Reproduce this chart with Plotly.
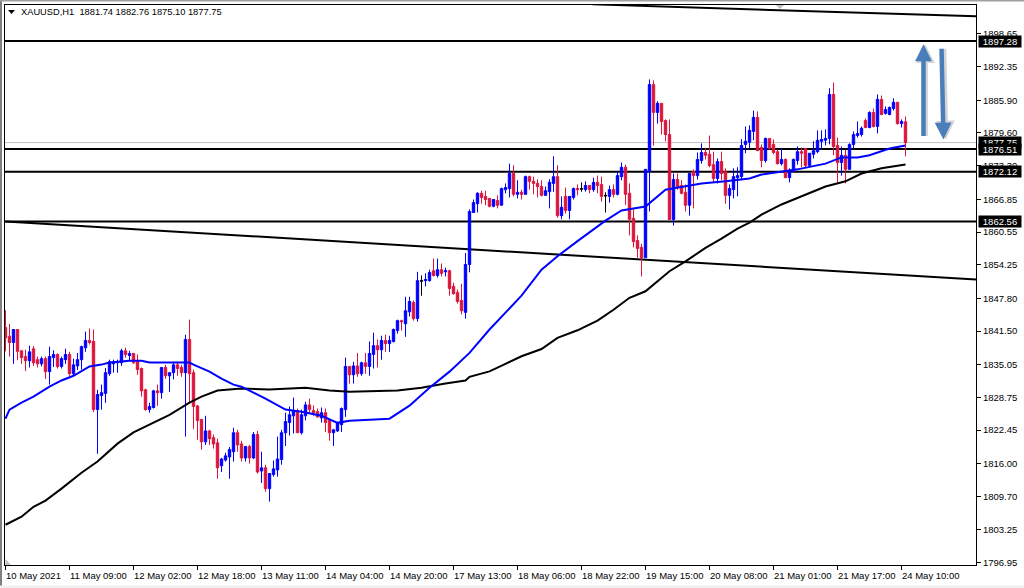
import plotly.graph_objects as go

direction = ("RRBRRRBRRB" "RBBRBBRBBB" "BRRBBBBBBB" "RBRRRRBBRB" "RBBRRBRRRR"
             "BRRRBBBBRR" "BRBRBRBBBB" "BBBRBBRRRB" "RRBBBBRBRB" "RBBRBRBBBR"
             "BBRBDBBRBR" "BRRRRBBBBR" "RRBRBBBRBR" "BRRRRBBBRB" "RBBRDBRBRR"
             "DBRBBRRRRR" "BBRBRRRBRR" "RBRBBRRRBR" "RBBBBBBBRR" "BRRRBRBBBR"
             "RBBBBBBRRB" "RBBBBRBRBR" "BBBRBR")

highs = [1845.5,1842.9,1841.8,1841.9,1837.8,1837.9,1838.7,1838.6,1836.6,1836.6,
         1836.6,1838.5,1837.8,1837.2,1836.6,1838.1,1837.5,1836.2,1837.3,1838.7,
         1841.4,1842.0,1841.8,1830.2,1831.2,1834.4,1836.0,1836.0,1836.0,1838.1,
         1838.3,1837.7,1837.2,1837.0,1834.5,1830.4,1827.7,1830.2,1831.2,1834.5,
         1835.0,1833.5,1835.6,1835.6,1835.0,1840.8,1843.7,1834.1,1827.3,1824.5,
         1825.2,1822.5,1821.6,1820.8,1817.1,1818.1,1819.2,1822.9,1822.5,1820.4,
         1819.4,1819.6,1822.1,1822.3,1818.3,1815.8,1814.1,1816.6,1821.2,1822.5,
         1825.8,1827.0,1828.7,1826.6,1826.4,1827.9,1828.5,1827.2,1826.6,1826.8,
         1826.6,1824.6,1822.7,1824.1,1826.8,1836.4,1834.7,1835.6,1837.3,1835.6,
         1837.3,1839.5,1841.2,1839.9,1840.6,1840.8,1840.6,1842.0,1843.7,1843.7,
         1848.1,1848.1,1847.4,1852.9,1852.2,1852.6,1853.3,1855.45,1855.45,1854.5,
         1853.7,1853.3,1850.8,1849.5,1850.6,1856.5,1864.9,1866.8,1868.2,1868.5,
         1868.5,1867.0,1866.8,1867.6,1869.1,1869.9,1873.7,1873.4,1870.5,1868.7,
         1871.4,1871.4,1871.2,1870.7,1870.5,1869.3,1870.7,1875.1,1873.4,1867.4,
         1869.1,1867.4,1869.1,1869.7,1870.1,1870.3,1869.5,1871.0,1871.4,1871.2,
         1868.2,1869.5,1869.7,1872.2,1873.9,1873.5,1869.9,1864.9,1859.9,1858.3,
         1872.6,1889.9,1889.7,1885.7,1885.3,1882.2,1882.2,1871.8,1871.8,1870.5,
         1869.7,1871.8,1872.6,1875.85,1877.6,1876.6,1879.1,1876.0,1874.7,1876.0,
         1872.8,1869.7,1872.8,1873.0,1878.4,1880.85,1881.05,1883.9,1883.75,1877.4,
         1878.7,1878.55,1878.35,1876.4,1876.6,1874.7,1872.8,1874.7,1877.0,1876.8,
         1876.6,1875.7,1878.0,1880.1,1880.1,1880.3,1888.2,1889.3,1878.7,1877.0,
         1876.4,1877.6,1879.9,1881.8,1880.85,1882.4,1883.75,1884.3,1887.0,1886.8,
         1884.7,1884.7,1886.25,1885.5,1882.2,1882.76]

body_top = [1842.2,1840.5,1841.8,1841.8,1837.7,1836.6,1837.5,1838.1,1836.0,1836.2,
            1836.2,1836.6,1837.0,1837.0,1836.2,1837.0,1837.0,1835.0,1836.0,1838.5,
            1839.7,1839.7,1839.5,1829.3,1829.65,1833.5,1835.6,1835.6,1835.6,1837.7,
            1837.7,1837.2,1837.2,1835.8,1834.3,1830.2,1827.0,1830.0,1830.0,1834.5,
            1834.5,1833.5,1835.0,1835.0,1834.5,1839.9,1839.9,1833.5,1827.1,1824.5,
            1822.3,1822.3,1821.0,1820.0,1816.9,1817.5,1818.7,1821.95,1821.95,1819.8,
            1819.3,1819.3,1821.6,1821.6,1815.2,1815.2,1814.1,1815.0,1816.9,1821.95,
            1824.1,1825.4,1826.2,1826.2,1825.4,1827.3,1827.3,1826.2,1826.0,1825.8,
            1825.8,1824.3,1822.5,1823.9,1826.6,1834.7,1834.7,1834.8,1834.8,1835.4,
            1835.4,1837.2,1838.7,1838.7,1839.7,1839.7,1839.7,1841.8,1843.5,1843.5,
            1845.4,1847.2,1847.0,1851.2,1851.2,1851.4,1852.75,1853.1,1853.3,1853.3,
            1853.1,1853.1,1850.1,1848.9,1847.4,1854.3,1864.5,1866.2,1868.0,1868.0,
            1867.4,1867.0,1866.8,1866.6,1868.9,1869.1,1871.8,1871.8,1868.2,1868.2,
            1871.2,1871.2,1870.3,1869.9,1869.3,1868.5,1870.1,1871.2,1871.2,1865.3,
            1867.4,1867.4,1868.9,1868.9,1868.9,1869.5,1869.5,1870.1,1870.1,1869.7,
            1867.6,1868.7,1868.7,1871.4,1873.0,1873.0,1868.0,1863.2,1858.9,1857.6,
            1872.6,1888.9,1888.9,1885.3,1885.3,1882.0,1879.3,1870.65,1870.65,1869.5,
            1868.2,1871.8,1872.2,1874.5,1875.85,1875.85,1875.5,1873.5,1874.1,1874.1,
            1872.2,1868.9,1871.2,1871.4,1877.2,1878.0,1880.1,1882.6,1882.6,1876.8,
            1878.55,1878.55,1877.4,1876.0,1874.5,1874.5,1872.4,1874.5,1876.0,1876.0,
            1876.6,1875.7,1876.2,1878.2,1878.35,1878.55,1887.0,1887.0,1877.2,1875.3,
            1875.3,1877.4,1879.3,1879.5,1880.5,1882.0,1883.55,1883.55,1886.05,1886.05,
            1884.1,1884.5,1885.5,1885.5,1881.8,1881.74]

body_bottom = [1840.2,1839.3,1839.3,1837.6,1836.4,1835.8,1835.8,1835.4,1835.2,1835.2,
               1833.7,1833.7,1836.4,1834.7,1834.7,1836.0,1833.3,1833.3,1834.8,1836.0,
               1838.3,1839.3,1826.4,1826.4,1829.1,1829.5,1833.3,1835.2,1835.4,1835.4,
               1837.0,1836.8,1835.4,1834.1,1830.0,1826.4,1826.4,1826.8,1829.65,1829.65,
               1832.9,1832.9,1833.5,1834.3,1833.5,1833.5,1833.3,1827.0,1824.3,1820.2,
               1820.2,1820.8,1819.8,1815.2,1815.6,1816.7,1817.3,1818.3,1819.6,1817.1,
               1817.1,1817.1,1817.1,1814.4,1814.6,1811.2,1811.2,1813.9,1814.8,1816.8,
               1821.95,1823.9,1825.2,1821.95,1821.95,1825.2,1826.4,1825.8,1825.0,1824.8,
               1823.9,1821.95,1821.95,1822.3,1823.5,1826.4,1833.1,1833.1,1833.3,1833.3,
               1834.7,1834.7,1837.0,1837.9,1837.9,1839.1,1839.1,1839.5,1841.6,1843.3,
               1842.9,1845.2,1843.9,1843.9,1851.1,1851.2,1851.2,1852.2,1852.2,1852.6,
               1852.9,1849.7,1848.7,1847.2,1845.4,1845.1,1854.3,1864.3,1866.0,1867.2,
               1866.8,1865.5,1865.5,1865.7,1865.7,1868.7,1868.9,1867.8,1867.8,1867.8,
               1867.8,1870.3,1869.9,1869.3,1867.6,1867.6,1868.3,1869.9,1863.7,1863.7,
               1864.7,1864.7,1867.2,1868.7,1868.8,1868.7,1868.7,1868.7,1869.5,1867.4,
               1867.5,1867.4,1867.8,1867.8,1871.2,1867.8,1863.0,1858.7,1857.4,1855.6,
               1855.6,1872.2,1883.55,1883.55,1881.8,1879.3,1862.95,1862.95,1869.1,1868.0,
               1865.7,1865.7,1871.4,1871.4,1874.3,1875.3,1873.35,1870.85,1870.85,1871.8,
               1867.6,1867.6,1868.7,1871.0,1871.2,1877.4,1877.8,1879.9,1876.2,1874.3,
               1874.3,1876.6,1875.85,1873.7,1873.7,1871.0,1871.0,1872.2,1874.3,1875.7,
               1873.35,1873.35,1875.5,1876.0,1878.0,1878.2,1878.55,1877.0,1873.9,1873.9,
               1872.6,1872.6,1877.4,1879.1,1879.3,1880.65,1880.65,1880.85,1880.85,1883.15,
               1883.35,1883.15,1884.3,1881.4,1881.4,1877.75]

lows = [1837.6,1836.6,1835.2,1835.9,1835.2,1833.8,1834.5,1834.8,1834.5,1834.7,
        1832.3,1831.2,1834.6,1834.3,1834.3,1835.2,1832.9,1832.8,1834.0,1834.1,
        1837.5,1838.9,1825.9,1817.9,1826.4,1827.7,1832.9,1833.5,1833.5,1834.8,
        1836.4,1835.8,1835.2,1833.1,1828.9,1826.2,1825.8,1826.6,1827.1,1828.5,
        1832.3,1829.8,1832.2,1832.9,1832.7,1821.2,1827.7,1822.7,1820.6,1818.7,
        1819.6,1819.6,1818.9,1813.1,1814.4,1816.4,1813.1,1816.4,1818.3,1816.4,
        1816.4,1816.0,1816.9,1814.1,1812.3,1810.6,1808.7,1813.5,1813.5,1815.8,
        1819.4,1821.4,1821.8,1821.9,1821.6,1824.3,1825.6,1825.2,1824.8,1823.9,
        1822.1,1820.4,1819.4,1822.1,1822.1,1825.0,1831.4,1831.4,1832.7,1832.9,
        1833.3,1832.9,1834.3,1834.5,1836.0,1837.5,1837.5,1839.3,1841.0,1841.6,
        1840.4,1844.3,1843.5,1843.3,1848.3,1850.1,1851.0,1852.0,1851.8,1852.0,
        1852.0,1848.3,1848.5,1846.8,1844.7,1843.9,1852.8,1864.2,1864.3,1866.0,
        1865.7,1865.3,1865.3,1865.1,1865.7,1868.0,1867.2,1867.4,1867.0,1866.8,
        1867.8,1868.7,1867.8,1867.2,1867.4,1867.6,1865.1,1868.3,1863.3,1863.0,
        1864.1,1863.0,1866.8,1867.6,1868.3,1868.3,1868.0,1868.3,1868.0,1866.4,
        1864.3,1866.2,1867.2,1867.6,1870.5,1865.8,1859.9,1857.6,1855.6,1852.0,
        1855.6,1864.5,1877.2,1881.4,1879.3,1878.0,1862.9,1861.8,1868.7,1867.8,
        1864.5,1863.7,1865.1,1870.65,1873.7,1874.5,1873.0,1870.1,1869.9,1870.5,
        1866.0,1864.9,1867.0,1867.4,1870.5,1875.7,1876.6,1878.2,1876.2,1873.0,
        1873.9,1876.4,1875.5,1873.5,1873.35,1871.0,1870.1,1872.0,1873.5,1873.0,
        1873.0,1873.15,1874.7,1875.7,1876.4,1877.2,1877.4,1875.3,1870.1,1871.4,
        1869.9,1872.6,1876.6,1878.7,1878.9,1880.5,1880.5,1880.65,1879.5,1883.0,
        1883.15,1883.0,1883.9,1881.2,1880.65,1875.10]

ma_fast_bars = [0,1,4,7,11,14,17,21,24,26,31,34,36,46,47,51,54,57,59,61,65,70,74,79,83,86,91,96,
                101,106,111,116,121,125,129,134,138,143,150,154,160,165,170,174,180,186,189,193,198,
                205,209,213,216,221,225]
ma_fast = [1824.65,1826.4,1827.75,1828.9,1830.8,1832.0,1832.9,1834.7,1835.05,1835.45,1835.8,1835.8,
           1835.45,1835.45,1835.05,1833.7,1832.35,1831.2,1830.8,1830.05,1828.5,1826.4,1826.0,1825.2,
           1823.85,1824.25,1824.45,1824.65,1827.15,1830.6,1833.7,1837.3,1841.8,1845.0,1848.3,1853.3,
           1855.9,1858.8,1862.75,1864.7,1865.45,1868.7,1869.3,1869.9,1870.3,1870.85,1871.6,1872.0,1872.6,
           1873.7,1874.9,1874.9,1875.3,1876.6,1877.2]

ma_slow_bars = [0,4,7,10,14,19,23,28,32,37,41,46,49,53,59,66,75,81,86,98,104,110,115,116,121,125,129,
                134,138,143,148,152,156,160,166,170,175,179,183,186,189,194,199,205,210,214,219,225]
ma_slow = [1804.25,1805.8,1807.7,1808.9,1811.2,1814.25,1816.4,1819.85,1822.0,1823.9,1825.4,1827.75,
           1828.9,1830.05,1830.45,1830.25,1830.6,1830.05,1829.85,1830.05,1830.6,1831.4,1832.0,1832.7,
           1833.75,1835.2,1836.65,1838.05,1840.2,1841.65,1843.5,1845.6,1847.9,1849.15,1853.0,1854.9,
           1857.5,1859.3,1861.2,1862.35,1863.9,1865.85,1867.4,1869.3,1870.3,1871.8,1872.8,1873.55]

level_prices = [1897.28, 1876.51, 1872.12, 1862.56]
bid_price = 1877.75
trend_upper_bars = [146.75, 242.625]
trend_upper_prices = [1904.34, 1902.03]
trend_lower_bars = [0, 242.625]
trend_lower_prices = [1862.57, 1851.41]

price_ticks = [1898.65,1892.35,1885.90,1879.60,1873.30,1866.85,1860.55,1854.25,1847.80,
               1841.50,1835.05,1828.75,1822.45,1816.00,1809.70,1803.25,1796.95]
date_ticks = list(range(0, 226, 16))
date_labels = ["10 May 2021","11 May 09:00","12 May 02:00","12 May 18:00","13 May 11:00",
               "14 May 04:00","14 May 20:00","17 May 13:00","18 May 06:00","18 May 22:00",
               "19 May 15:00","20 May 08:00","21 May 01:00","21 May 17:00","24 May 10:00"]
title_text = "XAUUSD,H1  1881.74 1882.76 1875.10 1877.75"

W, H = 1024, 588
L, R, T, B = 5, 976, 5, 565
FONT = "Liberation Sans"
TEXT_SIZE = 9.5
BLUE, RED = "#0000ff", "#dc143c"

def px(x):
    return (x - L) / (R - L)

def py(y):
    return (B - y) / (B - T)

bars = list(range(len(direction)))
opens = [bb if d == "B" else tt for d, tt, bb in zip(direction, body_top, body_bottom)]
closes = [tt if d == "B" else bb for d, tt, bb in zip(direction, body_top, body_bottom)]
regular = [i for i in bars if direction[i] != "D"]
doji = [i for i in bars if direction[i] == "D"]

fig = go.Figure()
fig.add_trace(go.Candlestick(
    x=regular,
    open=[opens[i] for i in regular], high=[highs[i] for i in regular],
    low=[lows[i] for i in regular], close=[closes[i] for i in regular],
    increasing=dict(line=dict(color=BLUE, width=1), fillcolor=BLUE),
    decreasing=dict(line=dict(color=RED, width=1), fillcolor=RED),
    whiskerwidth=0, showlegend=False, hoverinfo="skip"))
fig.add_trace(go.Candlestick(
    x=doji,
    open=[opens[i] for i in doji], high=[highs[i] for i in doji],
    low=[lows[i] for i in doji], close=[closes[i] for i in doji],
    increasing=dict(line=dict(color="black", width=1), fillcolor="black"),
    decreasing=dict(line=dict(color="black", width=1), fillcolor="black"),
    whiskerwidth=0, showlegend=False, hoverinfo="skip"))
fig.add_trace(go.Scatter(x=ma_slow_bars, y=ma_slow, mode="lines",
                         line=dict(color="black", width=2), showlegend=False, hoverinfo="skip"))
fig.add_trace(go.Scatter(x=ma_fast_bars, y=ma_fast, mode="lines",
                         line=dict(color=BLUE, width=2), showlegend=False, hoverinfo="skip"))

shapes = []
x_start, x_end = -0.125, 242.625
shapes.append(dict(type="line", xref="x", yref="y", x0=x_start, x1=x_end, y0=bid_price, y1=bid_price,
                   line=dict(color="#c0c0c0", width=1), layer="below"))
for lv in level_prices:
    shapes.append(dict(type="line", xref="x", yref="y", x0=x_start, x1=x_end, y0=lv, y1=lv,
                       line=dict(color="black", width=2), layer="below"))
shapes.append(dict(type="line", xref="x", yref="y", x0=trend_upper_bars[0], x1=trend_upper_bars[1],
                   y0=trend_upper_prices[0], y1=trend_upper_prices[1],
                   line=dict(color="black", width=2), layer="below"))
shapes.append(dict(type="line", xref="x", yref="y", x0=trend_lower_bars[0], x1=trend_lower_bars[1],
                   y0=trend_lower_prices[0], y1=trend_lower_prices[1],
                   line=dict(color="black", width=2), layer="below"))

def tri(points, color):
    path = "M " + " L ".join(f"{px(a):.5f} {py(b):.5f}" for a, b in points) + " Z"
    return dict(type="path", xref="paper", yref="paper", path=path,
                fillcolor=color, line=dict(width=0), layer="above")

shapes.append(tri([(8, 10), (15, 10), (11.5, 14)], "black"))
shapes.append(tri([(776, 5), (784, 5), (780, 9)], "#c0c0c0"))
shapes.append(tri([(5.5, 559), (5.5, 565), (11, 565)], "#c0c0c0"))
for x0, y0, x1, y1, c in [(0, 0, 2, H, "#808080"), (0, 0, W, 1.5, "#a0a0a0"), (0, 585.5, W, H, "#f0f0f0")]:
    shapes.append(dict(type="rect", xref="paper", yref="paper", x0=px(x0), x1=px(x1), y0=py(y0), y1=py(y1),
                       fillcolor=c, line=dict(width=0), layer="above"))

ann = [dict(xref="paper", yref="paper", x=px(18.5), y=py(12.5), xanchor="left", yanchor="middle",
            text=title_text, showarrow=False, font=dict(family=FONT, size=9.3, color="black"))]
for b, lab in zip(date_ticks, date_labels):
    ann.append(dict(xref="x", yref="paper", x=b, y=py(575.5), xanchor="left", yanchor="middle", xshift=-2,
                    text=lab, showarrow=False, font=dict(family=FONT, size=TEXT_SIZE, color="#000000")))
for lv in [bid_price] + level_prices:
    ann.append(dict(xref="paper", yref="y", x=px(977.5), y=lv, xanchor="left", yanchor="middle",
                    text=f"{lv:.2f}", showarrow=False, bgcolor="black", width=42, height=11, borderpad=0,
                    font=dict(family=FONT, size=TEXT_SIZE, color="white")))

def arrow(x0, y0, x1, y1, color, width, dx=0):
    return dict(xref="x", yref="y", axref="x", ayref="y", x=x1, y=y1, ax=x0, ay=y0, xshift=dx,
                text="", showarrow=True, arrowhead=2, arrowsize=0.75, arrowwidth=width, arrowcolor=color)

ann.append(arrow(229.6, 1878.74, 229.6, 1896.64, "rgba(150,150,150,0.4)", 5, 1.5))
ann.append(arrow(234.2, 1896.07, 234.7, 1878.35, "rgba(150,150,150,0.4)", 5, 1.5))
ann.append(arrow(229.5, 1878.74, 229.5, 1896.64, "#4a7ebb", 4.5))
ann.append(arrow(234.0, 1896.07, 234.5, 1878.35, "#4a7ebb", 4.5))

axis_font = dict(family=FONT, size=TEXT_SIZE, color="black")
fig.update_layout(
    width=W, height=H, autosize=False,
    margin=dict(l=L, r=W - R, t=T, b=H - B, pad=0),
    paper_bgcolor="white", plot_bgcolor="white",
    boxgap=0.4, boxgroupgap=0, showlegend=False,
    shapes=shapes, annotations=ann,
    xaxis=dict(range=[x_start, x_end], rangeslider=dict(visible=False), showgrid=False, zeroline=False,
               tickmode="array", tickvals=date_ticks, ticktext=[""] * len(date_ticks), ticks="outside",
               ticklen=4, tickwidth=1, tickcolor="black", showline=True, linecolor="black", linewidth=1,
               mirror=True),
    yaxis=dict(range=[1796.51, 1904.21], side="right", showgrid=False, zeroline=False,
               tickmode="array", tickvals=price_ticks, ticktext=[f"{v:.2f}" for v in price_ticks],
               ticks="outside", ticklen=4, tickwidth=1, tickcolor="black", showline=True, linecolor="black",
               linewidth=1, mirror=True, tickfont=axis_font),
)
fig.write_html("out.html", config=dict(displayModeBar=False),
               post_script="document.body.style.margin='0';document.body.style.overflow='hidden';")
